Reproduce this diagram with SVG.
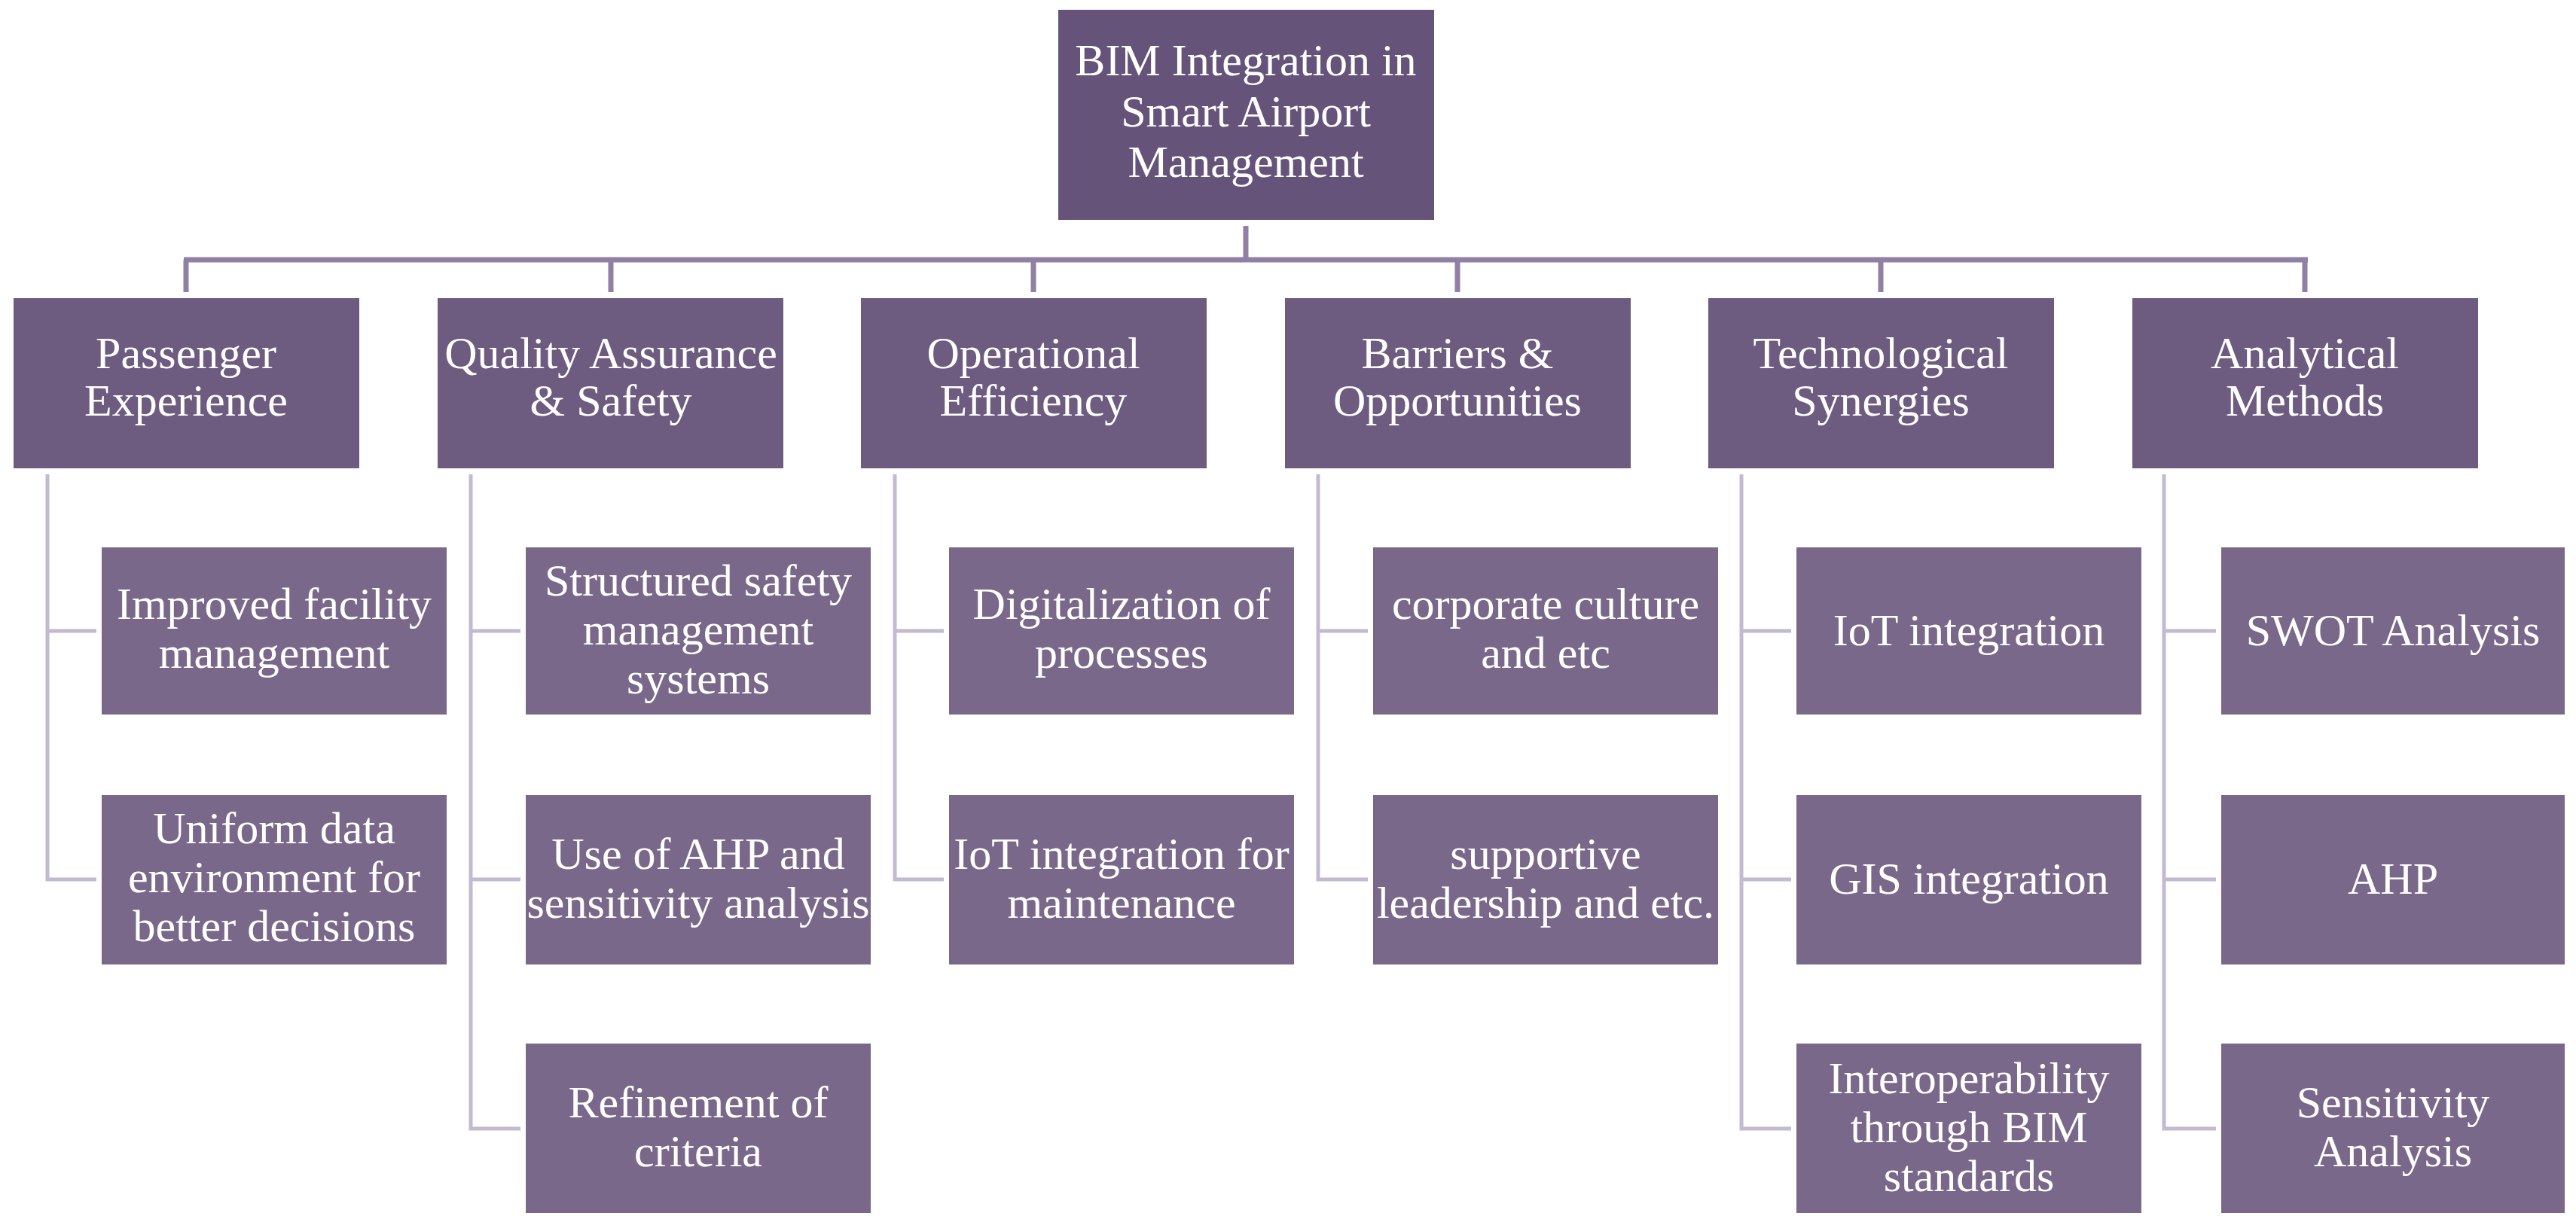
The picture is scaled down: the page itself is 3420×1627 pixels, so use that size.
<svg xmlns="http://www.w3.org/2000/svg" width="3420" height="1627" viewBox="0 0 3420 1627">
<style>
  .root { fill: #65537a; }
  .l1 { fill: #6d5b80; }
  .ch { fill: #7a688a; }
  text { font-family: "Liberation Serif", "Times New Roman", serif; font-size: 60px; fill: #ffffff; text-anchor: middle; }
  .main { stroke: #8f80a4; stroke-width: 7; fill: none; }
  .sub { stroke: #c3b9d0; stroke-width: 5; fill: none; }
</style>
<rect width="3420" height="1627" fill="#ffffff"/>
<g id="connectors">
  <line class="main" x1="1654" y1="300" x2="1654" y2="345"/>
  <line class="main" x1="244" y1="345" x2="3064" y2="345"/>
  <line class="main" x1="247" y1="345" x2="247" y2="388"/>
  <line class="main" x1="811" y1="345" x2="811" y2="388"/>
  <line class="main" x1="1372" y1="345" x2="1372" y2="388"/>
  <line class="main" x1="1935" y1="345" x2="1935" y2="388"/>
  <line class="main" x1="2497" y1="345" x2="2497" y2="388"/>
  <line class="main" x1="3060" y1="345" x2="3060" y2="388"/>
  <!-- col1 -->
  <path class="sub" d="M63,630 V1168 H128 M63,838 H128"/>
  <!-- col2 -->
  <path class="sub" d="M625,630 V1499 H691 M625,838 H691 M625,1168 H691"/>
  <!-- col3 -->
  <path class="sub" d="M1188,630 V1168 H1253 M1188,838 H1253"/>
  <!-- col4 -->
  <path class="sub" d="M1750,630 V1168 H1816 M1750,838 H1816"/>
  <!-- col5 -->
  <path class="sub" d="M2312,630 V1499 H2378 M2312,838 H2378 M2312,1168 H2378"/>
  <!-- col6 -->
  <path class="sub" d="M2873,630 V1499 H2942 M2873,838 H2942 M2873,1168 H2942"/>
</g>
<g id="root">
  <rect class="root" x="1405" y="13" width="499" height="279"/>
  <text x="1654" y="100">BIM Integration in</text>
  <text x="1654" y="168">Smart Airport</text>
  <text x="1654" y="235">Management</text>
</g>
<g id="passenger">
  <rect class="l1" x="18" y="396" width="459" height="226"/>
  <text x="247" y="489">Passenger</text>
  <text x="247" y="552">Experience</text>
</g>
<g id="quality">
  <rect class="l1" x="581" y="396" width="459" height="226"/>
  <text x="811" y="489">Quality Assurance</text>
  <text x="811" y="552">&amp; Safety</text>
</g>
<g id="operational">
  <rect class="l1" x="1143" y="396" width="459" height="226"/>
  <text x="1372" y="489">Operational</text>
  <text x="1372" y="552">Efficiency</text>
</g>
<g id="barriers">
  <rect class="l1" x="1706" y="396" width="459" height="226"/>
  <text x="1935" y="489">Barriers &amp;</text>
  <text x="1935" y="552">Opportunities</text>
</g>
<g id="technological">
  <rect class="l1" x="2268" y="396" width="459" height="226"/>
  <text x="2497" y="489">Technological</text>
  <text x="2497" y="552">Synergies</text>
</g>
<g id="analytical">
  <rect class="l1" x="2831" y="396" width="459" height="226"/>
  <text x="3060" y="489">Analytical</text>
  <text x="3060" y="552">Methods</text>
</g>
<g id="improved-facility">
  <rect class="ch" x="135" y="727" width="458" height="222"/>
  <text x="364" y="822">Improved facility</text>
  <text x="364" y="887">management</text>
</g>
<g id="uniform-data">
  <rect class="ch" x="135" y="1056" width="458" height="225"/>
  <text x="364" y="1120">Uniform data</text>
  <text x="364" y="1185">environment for</text>
  <text x="364" y="1250">better decisions</text>
</g>
<g id="structured-safety">
  <rect class="ch" x="698" y="727" width="458" height="222"/>
  <text x="927" y="791">Structured safety</text>
  <text x="927" y="856">management</text>
  <text x="927" y="921">systems</text>
</g>
<g id="use-of-ahp">
  <rect class="ch" x="698" y="1056" width="458" height="225"/>
  <text x="927" y="1154">Use of AHP and</text>
  <text x="927" y="1219">sensitivity analysis</text>
</g>
<g id="refinement">
  <rect class="ch" x="698" y="1386" width="458" height="225"/>
  <text x="927" y="1484">Refinement of</text>
  <text x="927" y="1549">criteria</text>
</g>
<g id="digitalization">
  <rect class="ch" x="1260" y="727" width="458" height="222"/>
  <text x="1489" y="822">Digitalization of</text>
  <text x="1489" y="887">processes</text>
</g>
<g id="iot-maintenance">
  <rect class="ch" x="1260" y="1056" width="458" height="225"/>
  <text x="1489" y="1154">IoT integration for</text>
  <text x="1489" y="1219">maintenance</text>
</g>
<g id="corporate-culture">
  <rect class="ch" x="1823" y="727" width="458" height="222"/>
  <text x="2052" y="822">corporate culture</text>
  <text x="2052" y="887">and etc</text>
</g>
<g id="supportive-leadership">
  <rect class="ch" x="1823" y="1056" width="458" height="225"/>
  <text x="2052" y="1154">supportive</text>
  <text x="2052" y="1219">leadership and etc.</text>
</g>
<g id="iot-integration">
  <rect class="ch" x="2385" y="727" width="458" height="222"/>
  <text x="2614" y="857">IoT integration</text>
</g>
<g id="gis-integration">
  <rect class="ch" x="2385" y="1056" width="458" height="225"/>
  <text x="2614" y="1187">GIS integration</text>
</g>
<g id="interoperability">
  <rect class="ch" x="2385" y="1386" width="458" height="225"/>
  <text x="2614" y="1452">Interoperability</text>
  <text x="2614" y="1517">through BIM</text>
  <text x="2614" y="1582">standards</text>
</g>
<g id="swot">
  <rect class="ch" x="2949" y="727" width="456" height="222"/>
  <text x="3177" y="857">SWOT Analysis</text>
</g>
<g id="ahp">
  <rect class="ch" x="2949" y="1056" width="456" height="225"/>
  <text x="3177" y="1187">AHP</text>
</g>
<g id="sensitivity">
  <rect class="ch" x="2949" y="1386" width="456" height="225"/>
  <text x="3177" y="1484">Sensitivity</text>
  <text x="3177" y="1549">Analysis</text>
</g>
</svg>
